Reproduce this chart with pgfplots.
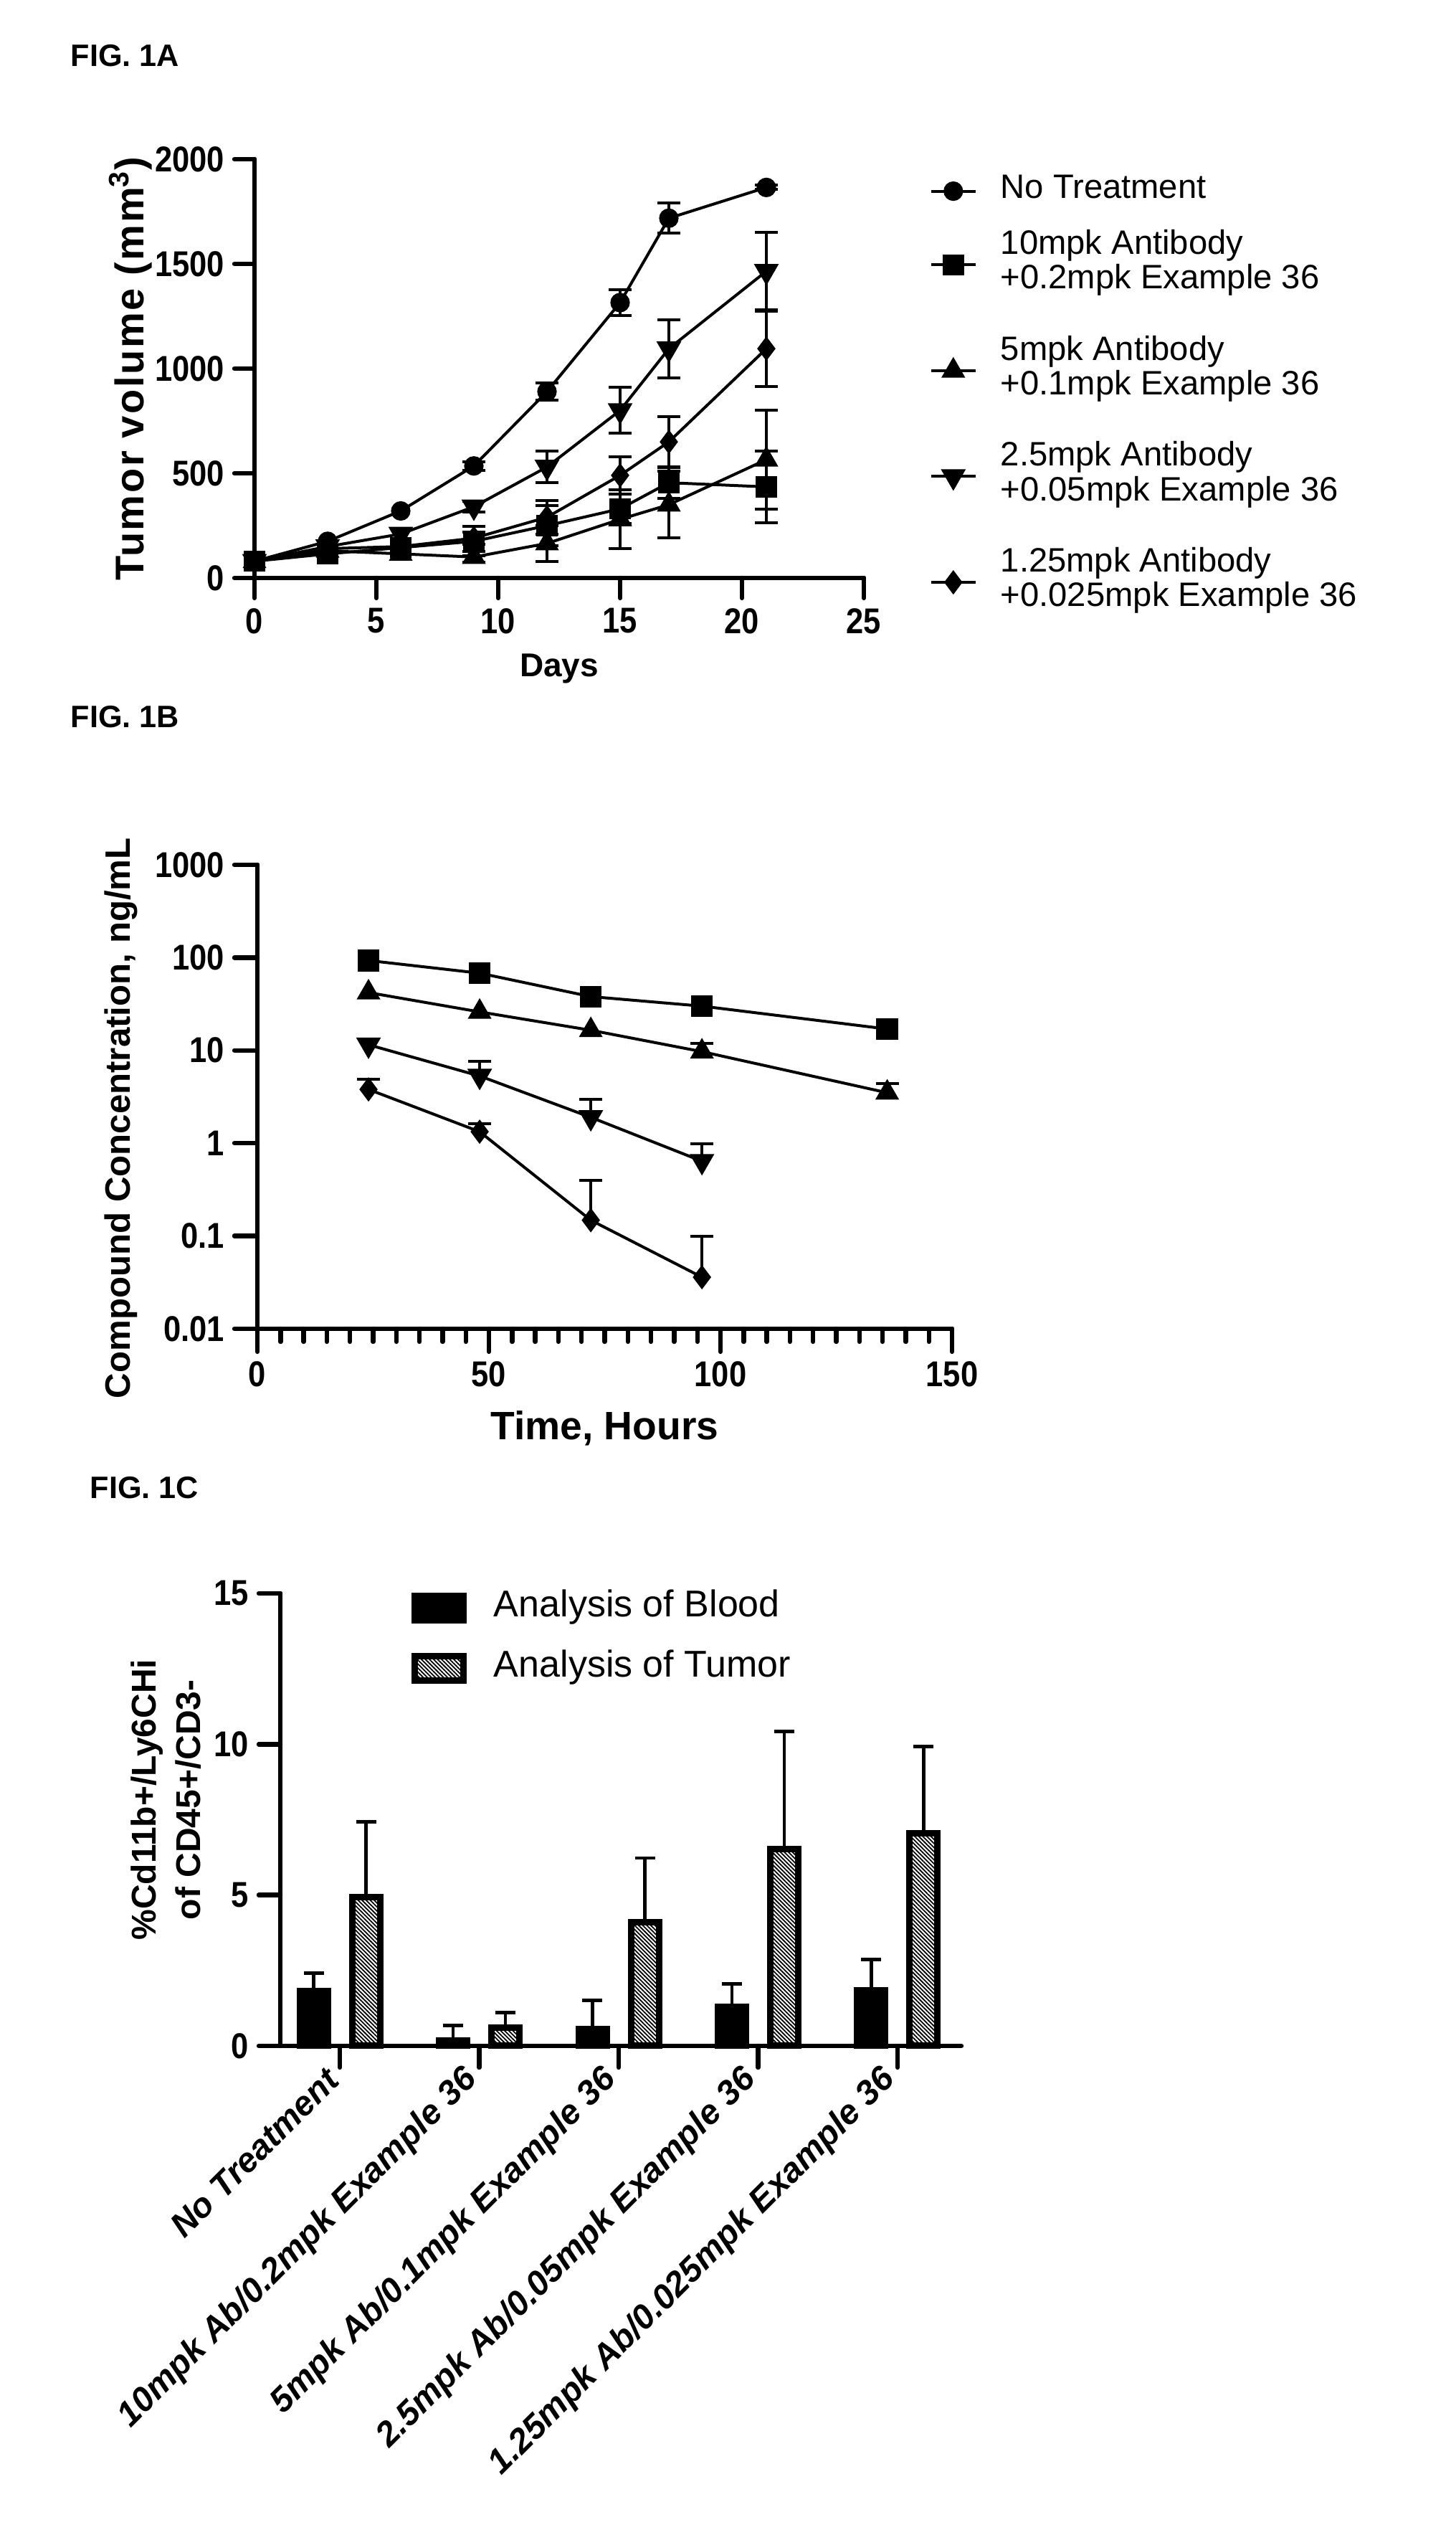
\documentclass[border=0pt]{standalone}
\usepackage{fontspec}
\setmainfont{Liberation Sans}
\newfontfamily\narrowsans[FakeStretch=0.87]{Liberation Sans}
\newfontfamily\spacedsans[LetterSpace=4.5]{Liberation Sans}
\usepackage{pgfplots}
\usepackage{pgfplotstable}
\pgfplotsset{compat=1.18}
\usetikzlibrary{patterns.meta}

\newcommand\ticklabfont{\narrowsans\bfseries\fontsize{12.5}{13}\selectfont}
\newcommand\legfont{\fontsize{11.8}{11.8}\selectfont}
% two-line legend entry with extra room above and below
% (fixed struts: \baselineskip is zero inside a tabular)
\newcommand\twoline[2]{\begin{tabular}{@{}l@{}}\rule{0pt}{13.41pt}#1\\#2\rule[-8.69pt]{0pt}{0pt}\end{tabular}}

\pgfplotsset{
  prism/.style={
    scale only axis,
    axis x line*=bottom, axis y line*=left,
    axis line style={line width=1.6pt, line cap=round},
    tick align=outside,
    tick style={line width=1.6pt, black, line cap=round},
    major tick length=7pt,
    ticklabel style={font=\ticklabfont},
    /pgf/number format/assume math mode=true,
    /pgf/number format/1000 sep={},
    clip=false,
  },
  ser/.style={black, line width=1pt, mark options={solid, fill=black, line width=0.8pt}},
  eb/.style={error bars/y dir=#1, error bars/y explicit,
    error bars/error bar style={line width=1pt, black},
    error bars/error mark options={rotate=90, mark size=4pt, line width=1pt, black}},
  barerr/.style={draw=none, mark=none, forget plot, eb=plus,
    error bars/error bar style={line width=1.2pt, black},
    error bars/error mark options={rotate=90, mark size=3.5pt, line width=1.2pt, black}},
  barlegend/.style={legend image code/.code={\draw[##1] (0pt,-4pt) rectangle (17pt,4.5pt);}},
}

% ---- Fig. 1A: tumour volume (mm^3) ----
\pgfplotstableread{
x y e
0 80 0
3 175 15
6 320 20
9 535 20
12 890 42
15 1315 62
17 1718 72
21 1865 10
}\tabNT
\pgfplotstableread{
x y e
0 80 0
3 115 15
6 145 20
9 175 70
12 250 95
15 330 70
17 455 75
21 435 170
}\tabTen
\pgfplotstableread{
x y e
0 80 0
3 130 15
6 115 20
9 100 25
12 165 85
15 280 140
17 350 160
21 565 235
}\tabFive
\pgfplotstableread{
x y e
0 80 0
3 150 15
6 210 20
9 340 25
12 530 75
15 800 110
17 1095 138
21 1465 185
}\tabTwoFive
\pgfplotstableread{
x y e
0 80 0
3 140 15
6 150 20
9 190 30
12 290 80
15 490 88
17 650 122
21 1095 180
}\tabOneTwoFive

% ---- Fig. 1B: compound concentration (ng/mL) ----
\pgfplotstableread{
x y
24 93
48 68
72 38
96 30
136 17
}\pkTen
\pgfplotstableread{
x y
24 42
48 26
72 16.5
96 9.7
136 3.5
}\pkFive
\pgfplotstableread{
x y e
96 9.7 2.3
136 3.5 0.9
}\pkFiveErr
\pgfplotstableread{
x y
24 11.5
48 5.3
72 1.9
96 0.64
}\pkTwoFive
\pgfplotstableread{
x y e
48 5.3 2.3
72 1.9 1.05
96 0.64 0.34
}\pkTwoFiveErr
\pgfplotstableread{
x y e
24 3.8 1.1
48 1.33 0.3
72 0.148 0.25
96 0.036 0.064
}\pkOneTwoFive

% ---- Fig. 1C: %Cd11b+/Ly6CHi of CD45+/CD3- ----
\pgfplotstableread{
x y e
0 1.82 0.60
1 0.19 0.48
2 0.55 0.95
3 1.30 0.75
4 1.84 1.02
}\tabBlood
\pgfplotstableread{
x y e
0 4.93 2.50
1 0.60 0.50
2 4.09 2.14
3 6.52 3.90
4 7.06 2.87
}\tabTumor

\begin{document}
\begin{tikzpicture}
\useasboundingbox (0,0) rectangle (507.75pt,885.5pt);

\node[anchor=base west, inner sep=0pt, font=\bfseries\fontsize{10.8}{12}\selectfont] at (24.5pt,862.25pt) {FIG. 1A};
\node[anchor=base west, inner sep=0pt, font=\bfseries\fontsize{10.8}{12}\selectfont] at (24.5pt,631.75pt) {FIG. 1B};
\node[anchor=base west, inner sep=0pt, font=\bfseries\fontsize{10.8}{12}\selectfont] at (31.25pt,363pt) {FIG. 1C};

% ================= A =================
\begin{axis}[prism,
  at={(88.75pt,684pt)}, anchor=south west,
  width=212.5pt, height=146pt,
  xmin=0, xmax=25, ymin=0, ymax=2000,
  xtick={0,5,...,25}, ytick={0,500,...,2000},
  xlabel={Days},
  ylabel={Tumor volume (mm\textsuperscript{3})},
  xlabel style={font=\bfseries\fontsize{11.5}{12}\selectfont, at={(axis description cs:0.5,-0.217)}, anchor=center},
  ylabel style={font=\spacedsans\bfseries\fontsize{14}{15}\selectfont, at={(axis description cs:-0.2035,0.5)}, anchor=center},
  legend style={at={(axis description cs:1.108,0.964)}, anchor=north west,
    draw=none, fill=none, inner sep=0pt, outer sep=0pt, font=\legfont,
    row sep=2.7pt, column sep=8.25pt, nodes={inner sep=0pt, text depth=}},
  legend cell align=left,
  legend image code/.code={\draw[mark repeat=2,mark phase=2,#1] plot coordinates {(0pt,0pt)(7.75pt,0pt)(15.5pt,0pt)};},
]
\addplot[forget plot, draw=none, mark=none, eb=both, restrict x to domain=8:30] table[x=x, y=y, y error=e]{\tabNT};
\addplot[forget plot, draw=none, mark=none, eb=both, restrict x to domain=8:30] table[x=x, y=y, y error=e]{\tabTen};
\addplot[forget plot, draw=none, mark=none, eb=both, restrict x to domain=8:30] table[x=x, y=y, y error=e]{\tabFive};
\addplot[forget plot, draw=none, mark=none, eb=both, restrict x to domain=8:30] table[x=x, y=y, y error=e]{\tabTwoFive};
\addplot[forget plot, draw=none, mark=none, eb=both, restrict x to domain=8:30] table[x=x, y=y, y error=e]{\tabOneTwoFive};

\addplot[ser, mark=*, mark size=3pt] table[x=x, y=y]{\tabNT};
\addlegendentry{No Treatment\strut}
\addplot[ser, mark=square*, mark size=3.3pt] table[x=x, y=y]{\tabTen};
\addlegendentry{\twoline{10mpk Antibody}{+0.2mpk Example 36}}
\addplot[ser, mark=triangle*, mark size=4pt] table[x=x, y=y]{\tabFive};
\addlegendentry{\twoline{5mpk Antibody}{+0.1mpk Example 36}}
\addplot[ser, mark=triangle*, mark size=4pt, mark options={rotate=180}] table[x=x, y=y]{\tabTwoFive};
\addlegendentry{\twoline{2.5mpk Antibody}{+0.05mpk Example 36}}
\addplot[ser, mark=diamond*, mark size=3.6pt] table[x=x, y=y]{\tabOneTwoFive};
\addlegendentry{\twoline{1.25mpk Antibody}{+0.025mpk Example 36}}
\end{axis}

% ================= B =================
\begin{axis}[prism,
  at={(89.75pt,422.25pt)}, anchor=south west,
  width=242.25pt, height=161.75pt,
  xmin=0, xmax=150, ymode=log, ymin=0.01, ymax=1000,
  xtick={0,50,100,150}, minor x tick num=9, minor tick length=4.5pt,
  major tick length=8pt,
  yminorticks=false,
  ytick={0.01,0.1,1,10,100,1000},
  yticklabels={0.01,0.1,1,10,100,1000},
  xlabel={Time, Hours},
  ylabel={Compound Concentration, ng/mL},
  xlabel style={font=\bfseries\fontsize{13.8}{14}\selectfont, at={(axis description cs:0.5,-0.215)}, anchor=center},
  ylabel style={font=\bfseries\fontsize{12.3}{13}\selectfont, at={(axis description cs:-0.196,0.454)}, anchor=center},
]
\addplot[draw=none, mark=none, eb=plus] table[x=x, y=y, y error=e]{\pkFiveErr};
\addplot[draw=none, mark=none, eb=plus] table[x=x, y=y, y error=e]{\pkTwoFiveErr};
\addplot[draw=none, mark=none, eb=plus] table[x=x, y=y, y error=e]{\pkOneTwoFive};
\addplot[ser, mark=square*, mark size=3.4pt] table[x=x, y=y]{\pkTen};
\addplot[ser, mark=triangle*, mark size=4pt] table[x=x, y=y]{\pkFive};
\addplot[ser, mark=triangle*, mark size=4pt, mark options={rotate=180}] table[x=x, y=y]{\pkTwoFive};
\addplot[ser, mark=diamond*, mark size=3.6pt] table[x=x, y=y]{\pkOneTwoFive};
\end{axis}

% ================= C =================
% bar centres sit 9.125pt either side of each category (0.1877 in x units)
\begin{axis}[prism,
  at={(97.75pt,172.25pt)}, anchor=south west,
  width=237.5pt, height=157.75pt,
  xmin=-0.427, xmax=4.458, ymin=0, ymax=15,
  xtick={0,1,2,3,4}, ytick={0,5,10,15},
  major tick length=7.5pt,
  xticklabels={No Treatment, 10mpk Ab/0.2mpk Example 36, 5mpk Ab/0.1mpk Example 36, 2.5mpk Ab/0.05mpk Example 36, 1.25mpk Ab/0.025mpk Example 36},
  xticklabel style={rotate=45, anchor=east, font=\bfseries\itshape\fontsize{12}{12}\selectfont},
  ylabel={\%Cd11b+/Ly6CHi\\of CD45+/CD3-},
  ylabel style={font=\bfseries\fontsize{12}{15.5}\selectfont, align=center, at={(axis description cs:-0.168,0.544)}, anchor=center},
  legend style={at={(axis description cs:0.1926,1.011)}, anchor=north west,
    draw=none, fill=none, inner sep=0pt, outer sep=0pt, font=\fontsize{13}{14}\selectfont,
    row sep=7pt, column sep=9.5pt, nodes={inner sep=0pt, text depth=}},
  legend cell align=left,
]
\addplot[ybar, bar width=9.75pt, bar shift=-9.125pt, fill=black, draw=black, line width=2.25pt, barlegend]
  table[x=x, y=y]{\tabBlood};
\addlegendentry{Analysis of Blood\strut}
\addplot[ybar, bar width=9.75pt, bar shift=9.125pt, draw=black, line width=2.25pt,
  pattern={Lines[angle=-45, distance=1pt, line width=0.45pt]}, pattern color=black, barlegend]
  table[x=x, y=y]{\tabTumor};
\addlegendentry{Analysis of Tumor\strut}
\addplot[barerr] table[x expr=\thisrow{x}-0.1877, y=y, y error=e]{\tabBlood};
\addplot[barerr] table[x expr=\thisrow{x}+0.1877, y=y, y error=e]{\tabTumor};
\end{axis}
\end{tikzpicture}
\end{document}
